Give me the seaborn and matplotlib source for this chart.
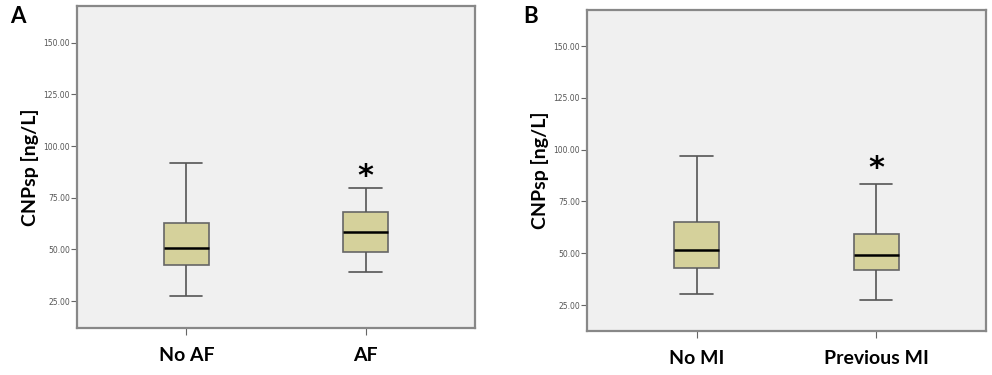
import numpy as np
import pandas as pd
import seaborn as sns
import matplotlib.pyplot as plt

# five-number summaries (min, Q1, median, Q3, max)
groups_a = ['No AF', 'AF']
stats_a = [[27.5, 42.5, 50.5, 62.8, 92.0],
           [39.1, 49.0, 58.5, 68.3, 79.7]]
groups_b = ['No MI', 'Previous MI']
stats_b = [[30.2, 43.1, 51.6, 64.9, 97.0],
           [27.3, 42.1, 49.2, 59.1, 83.4]]
star_y_a = 85.5
star_y_b = 91.0
yticks = [25, 50, 75, 100, 125, 150]

box_fill = '#d5d19b'
face = '#f0f0f0'

def make_df(groups, stats):
    rows = []
    for g, s in zip(groups, stats):
        for v in s:
            rows.append({'group': g, 'value': v})
    return pd.DataFrame(rows)

sns.set_style('white')
plt.rcParams['font.family'] = ['Lato', 'DejaVu Sans']
plt.rcParams['text.color'] = 'black'

fig = plt.figure(figsize=(9.92, 3.75), dpi=100)
ax_a = fig.add_axes([0.0776, 0.1253, 0.4012, 0.8587])
ax_b = fig.add_axes([0.5917, 0.1173, 0.4022, 0.8560])

def draw(ax, groups, stats, ylim, star_y):
    df = make_df(groups, stats)
    sns.boxplot(data=df, x='group', y='value', order=groups, ax=ax,
                whis=np.inf, width=0.25, color=box_fill, saturation=1,
                linecolor='#555555', linewidth=1.2,
                medianprops={'color': 'black', 'linewidth': 1.8},
                capprops={'color': '#555555', 'linewidth': 1.2},
                whiskerprops={'color': '#555555', 'linewidth': 1.2},
                boxprops={'edgecolor': '#666666'})
    # caps a bit wider than default
    for line in ax.lines:
        xd = line.get_xdata()
        if len(xd) == 2 and xd[0] != xd[1] and line.get_ydata()[0] == line.get_ydata()[1]:
            c = (xd[0] + xd[1]) / 2
            if abs(xd[1] - xd[0]) < 0.2:
                line.set_xdata([c - 0.09, c + 0.09])
    ax.set_facecolor(face)
    ax.set_xlim(-0.61, 1.61)
    ax.set_ylim(*ylim)
    ax.set_yticks(yticks)
    ax.set_yticklabels([f'{t:.2f}' for t in yticks], fontsize=5.5, color='#555555',
                       family='DejaVu Sans')
    ax.tick_params(axis='y', left=True, length=4, width=0.8, color='#666666', pad=1)
    ax.tick_params(axis='x', bottom=True, length=5, width=0.8, color='#666666', pad=9)
    for lbl in ax.get_xticklabels():
        lbl.set_fontsize(14)
        lbl.set_fontweight('bold')
        lbl.set_color('black')
    ax.set_xlabel('')
    ax.set_ylabel('CNPsp [ng/L]', fontsize=14, fontweight='bold', labelpad=3, color='black')
    for sp in ax.spines.values():
        sp.set_color('#888888')
        sp.set_linewidth(1.6)
    ax.text(1, star_y, '*', ha='center', va='center', fontsize=22, fontweight='bold',
            family='DejaVu Sans', color='black')

draw(ax_a, groups_a, stats_a, (12.0, 167.8), star_y_a)
draw(ax_b, groups_b, stats_b, (12.5, 167.4), star_y_b)

fig.text(0.010, 0.955, 'A', fontsize=16, fontweight='bold', va='center', color='black')
fig.text(0.527, 0.955, 'B', fontsize=16, fontweight='bold', va='center', color='black')

fig.savefig('out.png', dpi=100, facecolor='white')
